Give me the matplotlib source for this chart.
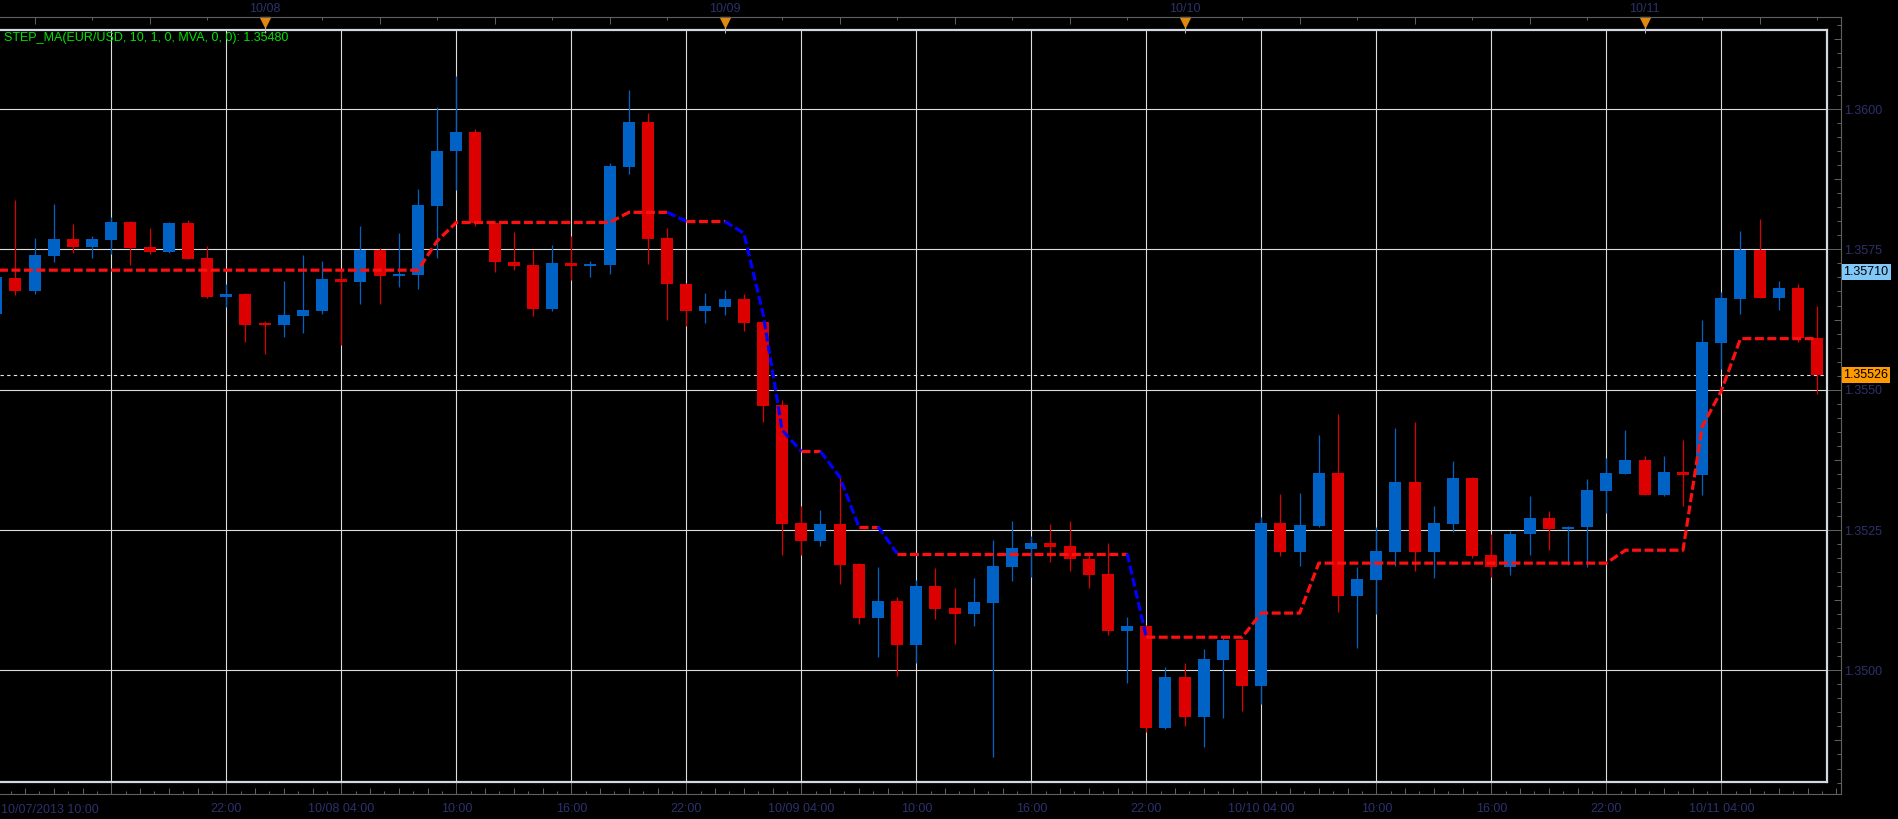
import numpy as np
import pandas as pd
import matplotlib
matplotlib.use("Agg")
import matplotlib.pyplot as plt
import matplotlib.dates as mdates
from matplotlib.transforms import blended_transform_factory as btf
from matplotlib.ticker import FixedLocator, FixedFormatter

plt.rcParams['font.family'] = ['Liberation Sans', 'DejaVu Sans']

# ---------------- data (hourly EUR/USD candles) ----------------
times = pd.date_range("2013-10-07 10:00", periods=96, freq="h")

opens = [1.35635, 1.35699, 1.35676, 1.35738, 1.35769, 1.35754, 1.35767, 1.35799, 1.35754, 1.35745,
         1.35797, 1.35735, 1.35665, 1.35671, 1.35617, 1.35615, 1.35631, 1.35640, 1.35697, 1.35692,
         1.35749, 1.35703, 1.35704, 1.35828, 1.35925, 1.35959, 1.35797, 1.35728, 1.35722, 1.35644,
         1.35726, 1.35721, 1.35722, 1.35897, 1.35977, 1.35770, 1.35689, 1.35640, 1.35648, 1.35662,
         1.35620, 1.35473, 1.35262, 1.35230, 1.35261, 1.35189, 1.35094, 1.35124, 1.35045, 1.35150,
         1.35111, 1.35100, 1.35120, 1.35184, 1.35216, 1.35227, 1.35222, 1.35199, 1.35171, 1.35070,
         1.35079, 1.34897, 1.34988, 1.34917, 1.35018, 1.35054, 1.34972, 1.35262, 1.35211, 1.35257,
         1.35352, 1.35132, 1.35161, 1.35211, 1.35336, 1.35211, 1.35261, 1.35343, 1.35205, 1.35184,
         1.35242, 1.35272, 1.35251, 1.35255, 1.35320, 1.35350, 1.35375, 1.35312, 1.35354, 1.35348,
         1.35583, 1.35661, 1.35749, 1.35663, 1.35682, 1.35592]

highs = [1.35710, 1.35838, 1.35770, 1.35831, 1.35795, 1.35774, 1.35808, 1.35800, 1.35788, 1.35799,
         1.35802, 1.35756, 1.35688, 1.35672, 1.35622, 1.35694, 1.35740, 1.35729, 1.35715, 1.35792,
         1.35752, 1.35779, 1.35858, 1.36004, 1.36059, 1.35965, 1.35798, 1.35781, 1.35749, 1.35758,
         1.35773, 1.35729, 1.35904, 1.36034, 1.35993, 1.35788, 1.35690, 1.35672, 1.35678, 1.35671,
         1.35621, 1.35482, 1.35292, 1.35286, 1.35345, 1.35192, 1.35184, 1.35130, 1.35161, 1.35182,
         1.35147, 1.35164, 1.35232, 1.35266, 1.35239, 1.35261, 1.35266, 1.35211, 1.35227, 1.35095,
         1.35080, 1.35006, 1.35013, 1.35038, 1.35058, 1.35055, 1.35273, 1.35314, 1.35316, 1.35419,
         1.35457, 1.35184, 1.35255, 1.35432, 1.35442, 1.35293, 1.35373, 1.35345, 1.35242, 1.35249,
         1.35310, 1.35283, 1.35257, 1.35341, 1.35379, 1.35428, 1.35381, 1.35381, 1.35411, 1.35625,
         1.35674, 1.35783, 1.35804, 1.35693, 1.35688, 1.35650]

lows = [1.35620, 1.35668, 1.35670, 1.35728, 1.35744, 1.35735, 1.35742, 1.35722, 1.35742, 1.35744,
        1.35732, 1.35664, 1.35647, 1.35585, 1.35564, 1.35594, 1.35601, 1.35635, 1.35580, 1.35653,
        1.35653, 1.35683, 1.35679, 1.35735, 1.35856, 1.35792, 1.35710, 1.35714, 1.35632, 1.35641,
        1.35695, 1.35701, 1.35706, 1.35884, 1.35724, 1.35624, 1.35614, 1.35619, 1.35633, 1.35605,
        1.35442, 1.35205, 1.35206, 1.35222, 1.35154, 1.35083, 1.35023, 1.34990, 1.35013, 1.35091,
        1.35047, 1.35079, 1.34846, 1.35159, 1.35166, 1.35193, 1.35177, 1.35147, 1.35063, 1.34977,
        1.34890, 1.34896, 1.34901, 1.34863, 1.34915, 1.34928, 1.34940, 1.35204, 1.35186, 1.35256,
        1.35104, 1.35040, 1.35100, 1.35186, 1.35177, 1.35165, 1.35247, 1.35200, 1.35167, 1.35169,
        1.35205, 1.35215, 1.35188, 1.35184, 1.35280, 1.35350, 1.35312, 1.35310, 1.35293, 1.35312,
        1.35537, 1.35634, 1.35663, 1.35642, 1.35585, 1.35493]

closes = [1.35700, 1.35676, 1.35740, 1.35769, 1.35754, 1.35769, 1.35799, 1.35752, 1.35745, 1.35797,
          1.35733, 1.35665, 1.35671, 1.35615, 1.35615, 1.35633, 1.35642, 1.35697, 1.35692, 1.35749,
          1.35703, 1.35706, 1.35829, 1.35925, 1.35959, 1.35797, 1.35728, 1.35721, 1.35644, 1.35726,
          1.35721, 1.35724, 1.35899, 1.35977, 1.35769, 1.35688, 1.35640, 1.35649, 1.35662, 1.35619,
          1.35471, 1.35261, 1.35230, 1.35261, 1.35187, 1.35094, 1.35124, 1.35045, 1.35150, 1.35109,
          1.35100, 1.35122, 1.35186, 1.35218, 1.35227, 1.35220, 1.35198, 1.35170, 1.35070, 1.35079,
          1.34897, 1.34988, 1.34917, 1.35020, 1.35054, 1.34972, 1.35262, 1.35211, 1.35259, 1.35352,
          1.35132, 1.35163, 1.35213, 1.35336, 1.35211, 1.35263, 1.35343, 1.35203, 1.35184, 1.35243,
          1.35272, 1.35251, 1.35255, 1.35322, 1.35352, 1.35375, 1.35312, 1.35354, 1.35348, 1.35585,
          1.35663, 1.35749, 1.35663, 1.35682, 1.35592, 1.35526]

step_ma = [1.35713] * 20 + \
          [1.35713, 1.35713, 1.35713, 1.35765, 1.35798, 1.35798, 1.35798, 1.35798, 1.35798, 1.35798] + \
          [1.35798, 1.35798, 1.35798, 1.35816, 1.35816, 1.35816, 1.35800, 1.35800, 1.35800, 1.35779] + \
          [1.35636, 1.35428, 1.35390, 1.35390, 1.35345, 1.35256, 1.35256, 1.35208, 1.35208, 1.35208] + \
          [1.35208] * 10 + \
          [1.35059] * 6 + [1.35102] * 3 + [1.35191] + \
          [1.35191] * 10 + \
          [1.35191] * 5 + [1.35214] * 4 + [1.35434] + \
          [1.35498, 1.35591, 1.35591, 1.35591, 1.35591, 1.35591]

legend_text = "STEP_MA(EUR/USD, 10, 1, 0, MVA, 0, 0): 1.35480"
marker_price = 1.35710
price_levels = [1.3500, 1.3525, 1.3550, 1.3575, 1.3600]
price_labels = ["1.3500", "1.3525", "1.3550", "1.3575", "1.3600"]
first_label = "10/07/2013 10:00"
grid_times = pd.date_range("2013-10-07 16:00", "2013-10-11 04:00", freq="6h")
grid_labels = ["", "22:00", "10/08 04:00", "10:00", "16:00", "22:00", "10/09 04:00", "10:00",
               "16:00", "22:00", "10/10 04:00", "10:00", "16:00", "22:00", "10/11 04:00"]
day_marks = pd.date_range("2013-10-08", "2013-10-11", freq="D")
day_labels = ["10/08", "10/09", "10/10", "10/11"]

# ---------------- style ----------------
BLUE = "#0062C4"
RED = "#DC0000"
MA_RED = "#FF1010"
MA_BLUE = "#0000FF"
GRID = "#DCDCDC"
FRAME = "#D3D8E3"
AXIS = "#5F5F5F"
TXT = "#2D306C"

W, H = 1899, 819
fig = plt.figure(figsize=(W / 100, H / 100), dpi=100, facecolor="black")


def box(x0, y0, x1, y1):
    return [x0 / W, 1 - y1 / H, (x1 - x0) / W, (y1 - y0) / H]


day0 = mdates.date2num(np.datetime64("2013-10-07T00:00"))
hr = 1 / 24.0

ax_out = fig.add_axes(box(0, 17, 1841, 794))
ax = fig.add_axes(box(0, 30, 1827, 782))

ax.set_xlim(day0 + 10.193 * hr, day0 + 105.514 * hr)
ax.set_ylim(1.348010, 1.361409)
ax_out.set_xlim(day0 + 10.193 * hr, day0 + 106.245 * hr)
ax_out.set_ylim(1.347796, 1.361641)

# ---------------- main plot ----------------
ax.set_facecolor("black")
for s in ["top", "right", "bottom"]:
    ax.spines[s].set_color(FRAME)
    ax.spines[s].set_linewidth(1.6)
ax.spines["left"].set_visible(False)
xs = mdates.date2num(times.values)
gx = mdates.date2num(grid_times.values)
ax.set_xticks(gx)
ax.set_yticks(price_levels)
ax.tick_params(length=0, labelbottom=False, labelleft=False)
ax.grid(True, color=GRID, lw=0.8)
ax.set_axisbelow(True)

o = np.array(opens)
c = np.array(closes)
hi = np.array(highs)
lo = np.array(lows)
cols = np.where(c >= o, BLUE, RED)
ax.vlines(xs, lo, hi, colors=cols, lw=0.9, zorder=2)
ax.bar(xs, np.maximum(np.abs(c - o), 0.00003), bottom=np.minimum(o, c),
       width=0.626 * hr, color=cols, lw=0, zorder=3)

# current price line
ax.axhline(closes[-1], color="#E6E6E6", lw=0.8, ls=(0, (3, 3)), zorder=1.5)

# step MA coloured by direction
ma = np.array(step_ma)
seg_col = [MA_BLUE if ma[i + 1] < ma[i] else MA_RED for i in range(len(ma) - 1)]
start = 0
for i in range(1, len(seg_col) + 1):
    if i == len(seg_col) or seg_col[i] != seg_col[start]:
        ax.plot(xs[start:i + 1], ma[start:i + 1], color=seg_col[start], lw=2.3,
                ls=(0, (2.8, 1.1)), zorder=4, solid_capstyle="butt", dash_capstyle="butt")
        start = i

ax.text(4 / 1827, 1 - (37.7 - 30) / 752, legend_text, transform=ax.transAxes,
        color="#00E400", fontsize=9, ha="left", va="center")

# ---------------- outer axes (bottom + right scales) ----------------
ax_out.set_facecolor("none")
ax_out.spines["left"].set_visible(False)
ax_out.spines["top"].set_visible(False)
for s in ["bottom", "right"]:
    ax_out.spines[s].set_color(AXIS)
    ax_out.spines[s].set_linewidth(0.8)

ax_out.xaxis.set_major_locator(FixedLocator(gx))
ax_out.xaxis.set_major_formatter(FixedFormatter(grid_labels))
half = mdates.date2num(pd.date_range("2013-10-07 10:00", "2013-10-11 10:00", freq="90min").values)
ax_out.xaxis.set_minor_locator(FixedLocator(half))
ax_out.tick_params(axis="x", which="major", direction="in", length=8.6, width=0.75,
                   color=AXIS, labelsize=9, labelcolor=TXT, pad=6.5)
ax_out.tick_params(axis="x", which="minor", direction="in", length=4.3, width=0.75, color=AXIS)
quarter = mdates.date2num(pd.date_range("2013-10-07 10:45", "2013-10-11 10:45", freq="90min").values)
ax_out.vlines(quarter, 0, 3.2 / 777, transform=btf(ax_out.transData, ax_out.transAxes),
              color=AXIS, lw=0.75)

ax_out.yaxis.tick_right()
ax_out.yaxis.set_major_locator(FixedLocator(price_levels))
ax_out.yaxis.set_major_formatter(FixedFormatter(price_labels))
ax_out.yaxis.set_minor_locator(FixedLocator(np.arange(1.34775, 1.36175, 0.00025)))
ax_out.tick_params(axis="y", which="major", direction="in", length=10, width=0.75,
                   color=AXIS, labelsize=9, labelcolor=TXT, pad=2.5)
ax_out.tick_params(axis="y", which="minor", direction="in", length=3.2, width=0.75, color=AXIS)
mids = np.arange(1.34875, 1.36175, 0.0025)
ax_out.hlines(mids, 1 - 6.5 / 1841, 1, transform=btf(ax_out.transAxes, ax_out.transData),
              color=AXIS, lw=0.75)

ax_out.text(99 / 1841, -(810 - 794) / 777, first_label, transform=ax_out.transAxes,
            ha="right", va="center", fontsize=9, color=TXT)

# price boxes
tb = btf(ax_out.transAxes, ax_out.transData)
ax_out.text(1843.5 / 1841, marker_price, f"{marker_price:.5f}", transform=tb, ha="left",
            va="center", fontsize=9, color="black",
            bbox=dict(boxstyle="square,pad=0.15", fc="#80C8F8", ec="none"))
ax_out.text(1843.5 / 1841, closes[-1], f"{closes[-1]:.5f}", transform=tb, ha="left",
            va="center", fontsize=9, color="black",
            bbox=dict(boxstyle="square,pad=0.15", fc="#FF9A00", ec="none"))

# ---------------- top scale ----------------
ax_top = ax_out.twiny()
ax_top.set_xlim(ax_out.get_xlim())
for s in ["left", "right", "bottom"]:
    ax_top.spines[s].set_visible(False)
ax_top.spines["top"].set_color(AXIS)
ax_top.spines["top"].set_linewidth(0.8)
six = mdates.date2num(pd.date_range("2013-10-07 12:00", "2013-10-11 12:00", freq="6h").values)
three = mdates.date2num(pd.date_range("2013-10-07 15:00", "2013-10-11 15:00", freq="6h").values)
dm = mdates.date2num(day_marks.values)
top_labels = []
for v in six:
    k = np.where(np.isclose(dm, v))[0]
    top_labels.append(day_labels[k[0]] if len(k) else "")
ax_top.xaxis.set_major_locator(FixedLocator(six))
ax_top.xaxis.set_major_formatter(FixedFormatter(top_labels))
ax_top.xaxis.set_minor_locator(FixedLocator(three))
ax_top.tick_params(axis="x", which="major", direction="in", length=5, width=0.75,
                   color=AXIS, labelsize=9, labelcolor=TXT, pad=1.5)
ax_top.tick_params(axis="x", which="minor", direction="in", length=2.5, width=0.75, color=AXIS)
tt = btf(ax_top.transData, ax_top.transAxes)
ax_top.vlines(dm, 1 - (33 - 17) / 777, 1 - (25 - 17) / 777, transform=tt, color="#B8B8B8", lw=0.75)
ax_top.plot(dm, [1 - (21.5 - 17) / 777] * len(dm), transform=tt, ls="none", marker="v",
            ms=7, color="#E08A10", mec="#E08A10", clip_on=False)

fig.savefig("out.png", dpi=100, facecolor="black")
